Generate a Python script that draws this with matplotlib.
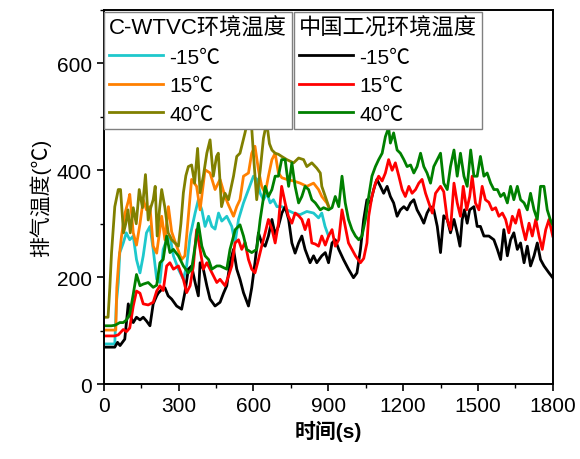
import numpy as np
import matplotlib.pyplot as plt
from matplotlib.ticker import MultipleLocator

plt.rcParams['font.family'] = ['Liberation Sans', 'Noto Sans CJK SC', 'DejaVu Sans']
plt.rcParams['axes.unicode_minus'] = False

# C-WTVC 循环, -15℃
t_cw_m15 = [0, 44, 50, 58, 64, 78, 90, 104, 118, 131,
            145, 158, 171, 185, 198, 212, 225, 238, 252, 265,
            279, 299, 319, 332, 346, 366, 379, 393, 406, 420,
            433, 446, 460, 473, 493, 513, 526, 540, 560, 580,
            600, 614, 627, 640, 654, 667, 680, 694, 714, 734,
            761, 787, 814, 841, 861, 874, 887, 901]
T_cw_m15 = [75, 75, 150, 190, 246, 264, 283, 270, 277, 233,
            208, 240, 283, 295, 252, 196, 190, 252, 270, 277,
            240, 215, 196, 221, 277, 320, 345, 326, 295, 314,
            295, 290, 320, 305, 314, 295, 264, 308, 339, 364,
            389, 383, 357, 345, 357, 339, 345, 332, 332, 326,
            320, 317, 323, 320, 311, 320, 295, 277]

# C-WTVC 循环, 15℃
t_cw_15 = [0, 48, 52, 60, 71, 85, 98, 104, 111, 118,
           131, 145, 158, 171, 185, 198, 212, 232, 245, 259,
           272, 292, 312, 325, 339, 352, 372, 386, 406, 426,
           446, 466, 486, 500, 520, 533, 546, 560, 580, 593,
           606, 620, 633, 647, 660, 674, 687, 700, 714, 734,
           761, 787, 814, 841, 861, 874, 894, 901]
T_cw_15 = [101, 101, 180, 231, 277, 320, 342, 355, 320, 283,
           260, 300, 345, 326, 332, 258, 245, 314, 270, 332,
           285, 258, 233, 240, 314, 383, 370, 326, 401, 395,
           364, 383, 351, 335, 314, 332, 345, 389, 395, 432,
           445, 401, 370, 357, 389, 420, 432, 395, 386, 383,
           380, 376, 370, 376, 364, 351, 339, 332]

# C-WTVC 循环, 40℃
t_cw_40 = [0, 17, 24, 31, 44, 58, 67, 79, 88, 97,
           106, 118, 130, 142, 155, 167, 178, 188, 198, 206,
           214, 224, 232, 245, 258, 272, 285, 299, 309, 319,
           329, 339, 352, 364, 376, 386, 399, 413, 426, 439,
           452, 459, 472, 486, 500, 520, 533, 546, 566, 573,
           590, 600, 613, 627, 640, 653, 664, 674, 687, 700,
           713, 734, 761, 781, 801, 814, 834, 854, 868, 874,
           888, 902]
T_cw_40 = [125, 125, 180, 246, 332, 364, 364, 283, 300, 326,
           283, 330, 300, 364, 330, 392, 307, 330, 345, 370,
           277, 330, 364, 330, 283, 270, 264, 258, 300, 358,
           390, 407, 410, 376, 441, 358, 389, 432, 457, 389,
           426, 432, 332, 357, 345, 389, 426, 432, 470, 485,
           500, 430, 345, 400, 460, 490, 450, 438, 432, 430,
           426, 420, 414, 423, 420, 407, 414, 404, 395, 370,
           351, 332]

# 中国工况, -15℃
t_cn_m15 = [0, 44, 55, 65, 84, 98, 108, 118, 131, 145,
            158, 171, 185, 198, 212, 218, 232, 245, 258, 272,
            292, 312, 325, 339, 352, 366, 379, 386, 399, 413,
            426, 446, 466, 480, 493, 506, 520, 533, 546, 560,
            580, 593, 606, 620, 633, 647, 660, 674, 687, 700,
            714, 727, 741, 754, 767, 781, 794, 807, 827, 841,
            854, 874, 888, 901, 915, 928, 942, 961, 981, 1001,
            1015, 1029, 1042, 1055, 1069, 1082, 1095, 1109, 1122, 1136,
            1149, 1162, 1176, 1189, 1203, 1216, 1230, 1243, 1256, 1270,
            1283, 1296, 1310, 1323, 1337, 1350, 1363, 1377, 1390, 1404,
            1417, 1428, 1437, 1446, 1457, 1467, 1484, 1497, 1510, 1524,
            1544, 1564, 1578, 1591, 1604, 1618, 1631, 1644, 1658, 1671,
            1685, 1698, 1711, 1725, 1738, 1751, 1765, 1785, 1800]
T_cn_m15 = [69, 69, 78, 72, 84, 150, 125, 115, 125, 120,
            125, 118, 109, 150, 165, 170, 177, 180, 165, 159,
            146, 140, 171, 215, 221, 190, 165, 227, 215, 184,
            159, 146, 153, 170, 184, 227, 252, 215, 196, 171,
            146, 180, 227, 283, 264, 258, 277, 308, 280, 295,
            320, 332, 308, 264, 245, 264, 277, 252, 227, 240,
            227, 240, 246, 227, 264, 270, 252, 233, 215, 199,
            208, 252, 308, 345, 339, 364, 383, 370, 357, 370,
            351, 339, 314, 326, 332, 326, 339, 345, 326, 314,
            301, 320, 332, 326, 295, 246, 315, 308, 283, 308,
            283, 258, 308, 326, 301, 326, 332, 295, 295, 277,
            277, 270, 252, 233, 289, 240, 270, 283, 252, 264,
            227, 258, 221, 240, 264, 233, 221, 208, 199]

# 中国工况, 15℃
t_cn_15 = [0, 44, 58, 78, 91, 104, 118, 131, 145, 158,
           178, 198, 212, 225, 238, 252, 265, 279, 299, 319,
           332, 346, 359, 372, 386, 399, 413, 426, 440, 453,
           466, 486, 500, 513, 526, 540, 553, 566, 580, 593,
           606, 620, 633, 647, 660, 674, 687, 700, 713, 727,
           740, 754, 767, 781, 794, 807, 821, 834, 848, 861,
           874, 888, 901, 915, 928, 942, 955, 968, 981, 995,
           1009, 1029, 1042, 1055, 1062, 1075, 1089, 1102, 1116, 1129,
           1142, 1156, 1169, 1183, 1196, 1209, 1223, 1236, 1250, 1263,
           1276, 1290, 1303, 1317, 1330, 1350, 1363, 1377, 1390, 1404,
           1417, 1430, 1441, 1455, 1467, 1477, 1490, 1504, 1517, 1530,
           1544, 1557, 1571, 1584, 1598, 1611, 1624, 1638, 1651, 1665,
           1678, 1691, 1705, 1718, 1732, 1745, 1758, 1772, 1785, 1800]
T_cn_15 = [90, 90, 92, 102, 98, 105, 146, 174, 170, 150,
           148, 153, 174, 184, 175, 221, 227, 215, 221, 196,
           171, 184, 221, 289, 252, 215, 227, 215, 202, 190,
           196, 184, 202, 221, 264, 270, 252, 265, 233, 215,
           208, 233, 258, 283, 308, 290, 264, 300, 370, 339,
           314, 301, 320, 315, 308, 289, 308, 264, 262, 258,
           277, 260, 277, 289, 258, 270, 326, 295, 264, 252,
           240, 227, 235, 264, 314, 351, 376, 389, 380, 395,
           420, 400, 414, 389, 364, 351, 370, 357, 364, 376,
           383, 357, 339, 320, 357, 370, 360, 308, 289, 376,
           339, 314, 370, 326, 351, 389, 339, 326, 370, 345,
           340, 326, 330, 314, 320, 308, 283, 314, 301, 326,
           295, 270, 301, 277, 308, 277, 252, 289, 308, 277]

# 中国工况, 40℃
t_cn_40 = [0, 30, 45, 64, 78, 91, 104, 118, 131, 145,
           158, 178, 198, 212, 225, 238, 252, 265, 279, 299,
           319, 339, 352, 366, 379, 393, 406, 420, 433, 453,
           466, 480, 493, 506, 527, 546, 560, 573, 593, 613,
           627, 647, 660, 674, 687, 700, 713, 727, 741, 754,
           767, 781, 794, 807, 821, 834, 848, 868, 881, 901,
           915, 928, 942, 955, 968, 981, 995, 1009, 1022, 1035,
           1049, 1062, 1075, 1089, 1102, 1116, 1129, 1142, 1149, 1162,
           1176, 1189, 1203, 1216, 1230, 1243, 1256, 1270, 1283, 1296,
           1310, 1323, 1337, 1350, 1363, 1377, 1390, 1404, 1417, 1430,
           1444, 1457, 1471, 1484, 1497, 1510, 1524, 1537, 1551, 1564,
           1578, 1591, 1604, 1618, 1631, 1644, 1658, 1671, 1685, 1698,
           1711, 1725, 1738, 1751, 1765, 1778, 1790, 1800]
T_cn_40 = [109, 109, 110, 115, 115, 120, 131, 168, 205, 184,
           187, 190, 181, 185, 227, 233, 277, 246, 252, 240,
           221, 208, 215, 258, 301, 258, 240, 233, 215, 221,
           221, 218, 215, 252, 289, 298, 277, 252, 246, 252,
           308, 370, 351, 364, 389, 389, 420, 420, 370, 414,
           370, 339, 351, 370, 364, 345, 339, 326, 330, 326,
           330, 351, 332, 389, 339, 308, 289, 277, 270, 277,
           308, 351, 389, 407, 420, 432, 463, 480, 451, 470,
           438, 432, 420, 407, 410, 395, 407, 432, 407, 395,
           376, 407, 420, 432, 376, 364, 407, 438, 389, 432,
           389, 370, 438, 389, 389, 426, 389, 395, 376, 364,
           364, 351, 357, 339, 370, 345, 370, 345, 339, 326,
           357, 326, 308, 370, 370, 326, 308, 298]

temps = ['-15℃', '15℃', '40℃']

fig = plt.figure(figsize=(5.8, 4.6), dpi=100)
ax = fig.add_axes([0.179, 0.163, 0.774, 0.813])

lw = 2.0
l1, = ax.plot(t_cw_m15, T_cw_m15, color='#1ec8cc', lw=lw)
l2, = ax.plot(t_cw_15, T_cw_15, color='#ff8000', lw=lw)
l3, = ax.plot(t_cw_40, T_cw_40, color='#808000', lw=lw)
l4, = ax.plot(t_cn_m15, T_cn_m15, color='black', lw=lw)
l5, = ax.plot(t_cn_15, T_cn_15, color='#ff0000', lw=lw)
l6, = ax.plot(t_cn_40, T_cn_40, color='#008000', lw=lw)

ax.set_xlim(0, 1800)
ax.set_ylim(0, 700)
ax.xaxis.set_major_locator(MultipleLocator(300))
ax.xaxis.set_minor_locator(MultipleLocator(150))
ax.yaxis.set_major_locator(MultipleLocator(200))
ax.yaxis.set_minor_locator(MultipleLocator(100))
ax.tick_params(which='major', direction='out', length=5, width=1.2, labelsize=15)
ax.tick_params(which='minor', direction='out', length=3, width=1.0)
for s in ax.spines.values():
    s.set_linewidth(1.4)

ax.set_xlabel('时间(s)', fontsize=15, fontweight='bold')
ax.set_ylabel('排气温度(℃)', fontsize=15)

leg_kw = dict(fontsize=15, title_fontsize=16, frameon=True, fancybox=False,
              edgecolor='#808080', framealpha=1, handlelength=2.6,
              handletextpad=0.3, labelspacing=0.45, borderpad=0.25,
              borderaxespad=0, loc='upper left', alignment='left')
leg1 = ax.legend([l1, l2, l3], temps, title='C-WTVC环境温度',
                 bbox_to_anchor=(0.0, 0.995), **leg_kw)
leg1.get_frame().set_linewidth(1.0)
ax.add_artist(leg1)
leg2 = ax.legend([l4, l5, l6], temps, title='中国工况环境温度',
                 bbox_to_anchor=(0.423, 0.995), **leg_kw)
leg2.get_frame().set_linewidth(1.0)

fig.savefig('out.png', dpi=100)
